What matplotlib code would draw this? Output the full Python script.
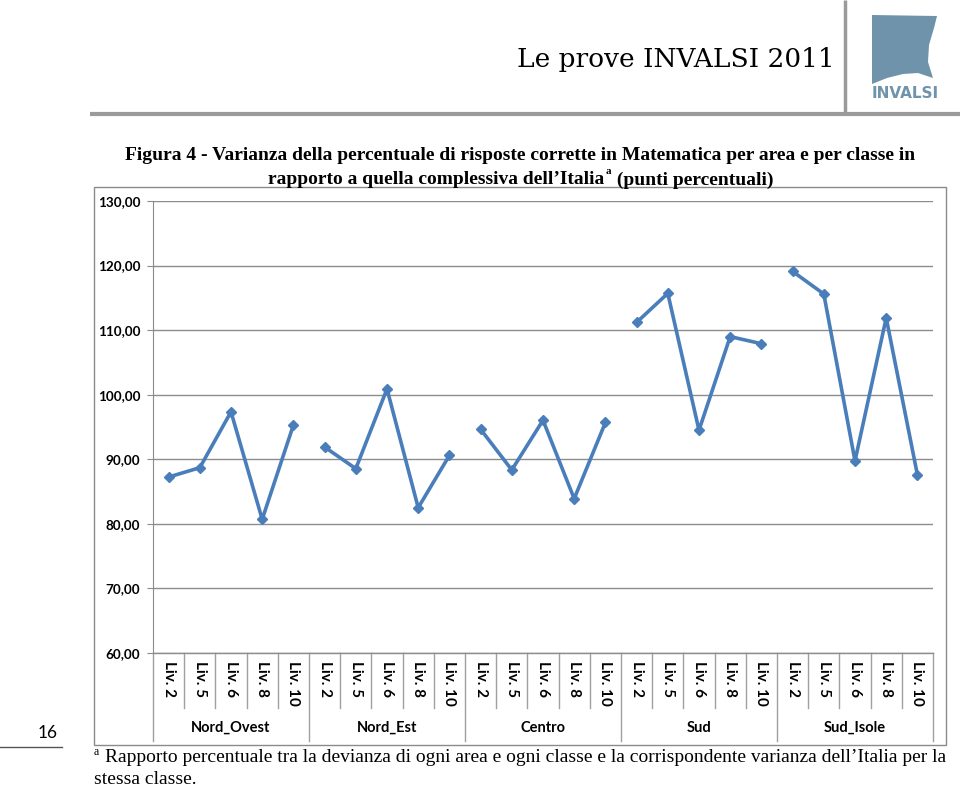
import matplotlib.pyplot as plt
import matplotlib.transforms as mtransforms
from matplotlib.patches import Polygon, Rectangle
import numpy as np

# data
areas = ['Nord_Ovest', 'Nord_Est', 'Centro', 'Sud', 'Sud_Isole']
levels = ['Liv. 2', 'Liv. 5', 'Liv. 6', 'Liv. 8', 'Liv. 10']
nord_ovest = [87.25, 88.7, 97.35, 80.7, 95.3]
nord_est = [91.9, 88.55, 100.9, 82.5, 90.6]
centro = [94.65, 88.35, 96.05, 83.9, 95.7]
sud = [111.2, 115.7, 94.5, 109.0, 107.9]
sud_isole = [119.1, 115.6, 89.75, 111.9, 87.6]
series = [nord_ovest, nord_est, centro, sud, sud_isole]
yticks = [60, 70, 80, 90, 100, 110, 120, 130]

W, H = 960, 790
fig = plt.figure(figsize=(W / 100, H / 100), dpi=100)

# page layer in pixel coords
page = fig.add_axes([0, 0, 1, 1])
page.set_xlim(0, W)
page.set_ylim(H, 0)
page.axis('off')

grey = '#9a9a9a'
page.plot([90, 960], [114, 114], color=grey, lw=3, solid_capstyle='butt')
page.plot([845, 845], [0, 114], color=grey, lw=2.5, solid_capstyle='butt')
page.text(835, 60, 'Le prove INVALSI 2011', family='DejaVu Serif', fontsize=19,
          ha='right', va='center', color='black')

logo_col = '#6f93ab'
logo = Polygon([(872, 15), (937, 16), (934, 28), (929, 45), (928, 62), (933, 78),
                (918, 73), (903, 74), (887, 78), (872, 84)], closed=True,
               facecolor=logo_col, edgecolor='none')
page.add_patch(logo)
page.text(905, 93, 'INVALSI', family='DejaVu Sans', weight='bold', fontsize=11,
          ha='center', va='center', color=logo_col)

# title
tfont = dict(family='Liberation Serif', weight='bold', fontsize=14, color='black')
page.text(520, 155, 'Figura 4 - Varianza della percentuale di risposte corrette in '
          'Matematica per area e per classe in', ha='center', va='center', **tfont)
t1 = page.text(604, 180, 'rapporto a quella complessiva dell\u2019Italia',
               ha='right', va='center', **tfont)
page.annotate('a', xy=(1, 0.72), xycoords=t1, xytext=(1, 0),
              textcoords='offset points', ha='left', va='bottom',
              family='Liberation Serif', weight='bold', fontsize=8)
page.annotate(' (punti percentuali)', xy=(1, 0.5), xycoords=t1, xytext=(6, 0),
              textcoords='offset points', ha='left', va='center', **tfont)

# chart frame
page.add_patch(Rectangle((94, 187), 852, 558, facecolor='none', edgecolor='#8a8a8a', lw=1))

# page number and footnote
page.text(58, 733, '16', family='Lato', fontsize=12.5, ha='right', va='center')
page.plot([0, 62], [747, 747], color='#555555', lw=1)
ffont = dict(family='Liberation Serif', fontsize=14, color='black')
page.text(94, 752, 'a', fontsize=8.5, family='Liberation Serif', ha='left', va='center')
page.text(105, 758, 'Rapporto percentuale tra la devianza di ogni area e ogni classe e la '
          'corrispondente varianza dell\u2019Italia per la', ha='left', va='center', **ffont)
page.text(94, 779, 'stessa classe.', ha='left', va='center', **ffont)

# chart axes
ax = fig.add_axes([153 / W, 1 - 653 / H, 780 / W, 452 / H])
ax.set_facecolor('none')
line_col = '#4a7ebb'
n = len(levels)
for i, vals in enumerate(series):
    x = np.arange(n) + i * n
    ax.plot(x, vals, color=line_col, lw=2.6, marker='D', markersize=5.5,
            markerfacecolor=line_col, markeredgecolor=line_col, zorder=3)

ax.set_xlim(-0.5, len(areas) * n - 0.5)
ax.set_ylim(60, 130)
ax.set_yticks(yticks)
ax.set_yticklabels(['%d,00' % v for v in yticks], family='Lato', weight='bold', fontsize=9.7)
ax.yaxis.grid(True, color='#8c8c8c', lw=1)
ax.set_axisbelow(True)
ax.tick_params(axis='y', length=4, color='#8c8c8c', pad=5)
ax.set_xticks([])
for s in ['top', 'right', 'bottom']:
    ax.spines[s].set_visible(False)
ax.spines['left'].set_color('#8c8c8c')

trans = mtransforms.blended_transform_factory(ax.transData, ax.transAxes)
cat_bot = -55 / 452
grp_bot = -88 / 452
total = len(areas) * n
for k in range(total + 1):
    xb = k - 0.5
    bot = grp_bot if k % n == 0 else cat_bot
    ax.plot([xb, xb], [0, bot], color='#a0a0a0', lw=1, transform=trans, clip_on=False)
ax.plot([-0.5, total - 0.5], [0, 0], color='#8c8c8c', lw=1, transform=trans, clip_on=False)
for k in range(total):
    ax.text(k, -8 / 452, levels[k % n], rotation=270, ha='center', va='top',
            family='Lato', weight='bold', fontsize=11, transform=trans)
for i, a in enumerate(areas):
    ax.text(i * n + (n - 1) / 2, -75 / 452, a, ha='center', va='center',
            family='Lato', weight='bold', fontsize=10.5, transform=trans)

fig.savefig('out.png', dpi=100)
